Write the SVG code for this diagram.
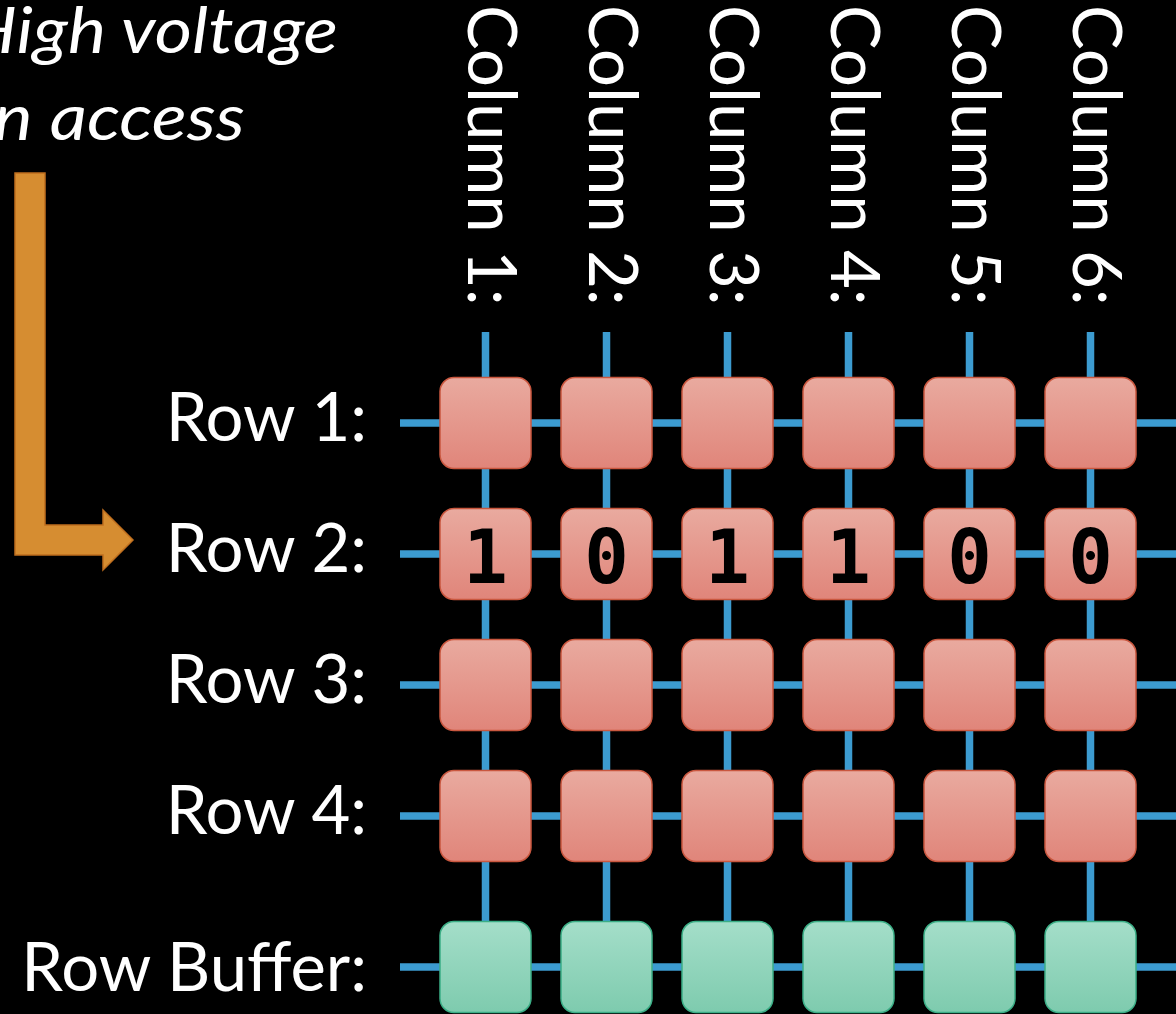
<svg xmlns="http://www.w3.org/2000/svg" width="1176" height="1014" viewBox="0 0 1176 1014">
<defs>
<linearGradient id="gr" x1="0" y1="0" x2="0" y2="1"><stop offset="0" stop-color="#E9AA9F"/><stop offset="1" stop-color="#E0857A"/></linearGradient>
<linearGradient id="gg" x1="0" y1="0" x2="0" y2="1"><stop offset="0" stop-color="#A4DEC9"/><stop offset="1" stop-color="#7ECBAE"/></linearGradient>
<style>
.lbl{font-family:Lato,"Open Sans","Liberation Sans",sans-serif;font-size:67px;fill:#FFFFFF}
.it{font-family:Lato,"Open Sans","Liberation Sans",sans-serif;font-size:64px;font-style:italic;fill:#FFFFFF}
.dig{font-family:"DejaVu Sans Mono","Liberation Mono",monospace;font-weight:bold;font-size:74px;fill:#000000;text-anchor:middle}
.cell{fill:url(#gr);stroke:#C9573F;stroke-width:1.5}
.buf{fill:url(#gg);stroke:#3BAE86;stroke-width:1.5}
.wire{stroke:#3C9BD0;stroke-width:7.5;fill:none}
</style>
</defs>
<rect x="0" y="0" width="1176" height="1014" fill="#000000"/>
<g id="caption">
<text class="it" x="-34" y="53" textLength="372" lengthAdjust="spacingAndGlyphs">High voltage</text>
<text class="it" x="-6" y="140" textLength="251" lengthAdjust="spacingAndGlyphs">n access</text>
</g>
<g id="arrow">
<path d="M15,173 H45 V525 H103 V510 L133,540 L103,570 V555 H15 Z" fill="#D68D31" stroke="#BF6E1E" stroke-width="1.5"/>
</g>
<g id="connectors">
<line class="wire" x1="400" y1="423" x2="1176" y2="423"/>
<line class="wire" x1="400" y1="554" x2="1176" y2="554"/>
<line class="wire" x1="400" y1="685" x2="1176" y2="685"/>
<line class="wire" x1="400" y1="816" x2="1176" y2="816"/>
<line class="wire" x1="400" y1="967" x2="1176" y2="967"/>
<line class="wire" x1="485.5" y1="332" x2="485.5" y2="967"/>
<line class="wire" x1="606.5" y1="332" x2="606.5" y2="967"/>
<line class="wire" x1="727.5" y1="332" x2="727.5" y2="967"/>
<line class="wire" x1="848.5" y1="332" x2="848.5" y2="967"/>
<line class="wire" x1="969.5" y1="332" x2="969.5" y2="967"/>
<line class="wire" x1="1090.5" y1="332" x2="1090.5" y2="967"/>
</g>
<g id="col-labels">
<text class="lbl" transform="translate(468,5) rotate(90)">Column 1:</text>
<text class="lbl" transform="translate(589,5) rotate(90)">Column 2:</text>
<text class="lbl" transform="translate(710,5) rotate(90)">Column 3:</text>
<text class="lbl" transform="translate(831,5) rotate(90)">Column 4:</text>
<text class="lbl" transform="translate(952,5) rotate(90)">Column 5:</text>
<text class="lbl" transform="translate(1073,5) rotate(90)">Column 6:</text>
</g>
<g id="row-labels" text-anchor="end">
<text class="lbl" x="367" y="441">Row 1:</text>
<text class="lbl" x="367" y="572">Row 2:</text>
<text class="lbl" x="367" y="703">Row 3:</text>
<text class="lbl" x="367" y="834">Row 4:</text>
<text class="lbl" x="367" y="991">Row Buffer:</text>
</g>
<g id="row1">
<rect class="cell" x="440" y="377.5" width="91" height="91" rx="14"/>
<rect class="cell" x="561" y="377.5" width="91" height="91" rx="14"/>
<rect class="cell" x="682" y="377.5" width="91" height="91" rx="14"/>
<rect class="cell" x="803" y="377.5" width="91" height="91" rx="14"/>
<rect class="cell" x="924" y="377.5" width="91" height="91" rx="14"/>
<rect class="cell" x="1045" y="377.5" width="91" height="91" rx="14"/>
</g>
<g id="row2">
<rect class="cell" x="440" y="508.5" width="91" height="91" rx="14"/>
<rect class="cell" x="561" y="508.5" width="91" height="91" rx="14"/>
<rect class="cell" x="682" y="508.5" width="91" height="91" rx="14"/>
<rect class="cell" x="803" y="508.5" width="91" height="91" rx="14"/>
<rect class="cell" x="924" y="508.5" width="91" height="91" rx="14"/>
<rect class="cell" x="1045" y="508.5" width="91" height="91" rx="14"/>
<text class="dig" x="485.5" y="583">1</text>
<text class="dig" x="606.5" y="583">0</text>
<text class="dig" x="727.5" y="583">1</text>
<text class="dig" x="848.5" y="583">1</text>
<text class="dig" x="969.5" y="583">0</text>
<text class="dig" x="1090.5" y="583">0</text>
</g>
<g id="row3">
<rect class="cell" x="440" y="639.5" width="91" height="91" rx="14"/>
<rect class="cell" x="561" y="639.5" width="91" height="91" rx="14"/>
<rect class="cell" x="682" y="639.5" width="91" height="91" rx="14"/>
<rect class="cell" x="803" y="639.5" width="91" height="91" rx="14"/>
<rect class="cell" x="924" y="639.5" width="91" height="91" rx="14"/>
<rect class="cell" x="1045" y="639.5" width="91" height="91" rx="14"/>
</g>
<g id="row4">
<rect class="cell" x="440" y="770.5" width="91" height="91" rx="14"/>
<rect class="cell" x="561" y="770.5" width="91" height="91" rx="14"/>
<rect class="cell" x="682" y="770.5" width="91" height="91" rx="14"/>
<rect class="cell" x="803" y="770.5" width="91" height="91" rx="14"/>
<rect class="cell" x="924" y="770.5" width="91" height="91" rx="14"/>
<rect class="cell" x="1045" y="770.5" width="91" height="91" rx="14"/>
</g>
<g id="row-buffer">
<rect class="buf" x="440" y="921.5" width="91" height="91" rx="14"/>
<rect class="buf" x="561" y="921.5" width="91" height="91" rx="14"/>
<rect class="buf" x="682" y="921.5" width="91" height="91" rx="14"/>
<rect class="buf" x="803" y="921.5" width="91" height="91" rx="14"/>
<rect class="buf" x="924" y="921.5" width="91" height="91" rx="14"/>
<rect class="buf" x="1045" y="921.5" width="91" height="91" rx="14"/>
</g>
</svg>
